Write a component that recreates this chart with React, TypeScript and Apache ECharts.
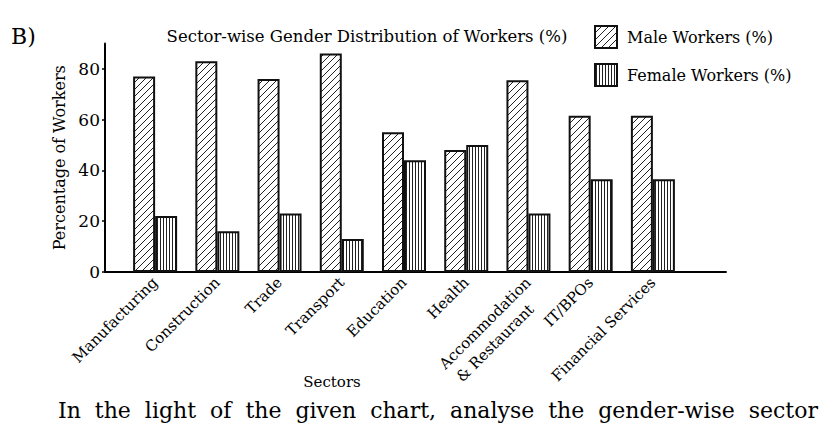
import { useEffect, useRef } from 'react';
import * as echarts from 'echarts';

const sectors = [
  'Manufacturing',
  'Construction',
  'Trade',
  'Transport',
  'Education',
  'Health',
  'Accommodation\n& Restaurant\u00a0\u00a0\u00a0',
  'IT/BPOs',
  'Financial Services',
];
const maleWorkers = [77, 83, 76, 86, 55, 48, 75.5, 61.5, 61.5];
const femaleWorkers = [22, 16, 23, 13, 44, 50, 23, 36.5, 36.5];
const seriesNames = ['Male Workers (%)', 'Female Workers (%)'];
const yMin = 0;
const yMax = 90;
const yTicks = [0, 20, 40, 60, 80];

const FONT = '"DejaVu Serif"';
const NB2 = '\u00a0\u00a0';

// small canvas tiles for the hatching
function hatch(kind: 'diagonal' | 'vertical') {
  const size = kind === 'diagonal' ? 7 : 3;
  const c = document.createElement('canvas');
  c.width = size;
  c.height = size;
  const ctx = c.getContext('2d')!;
  ctx.fillStyle = '#fff';
  ctx.fillRect(0, 0, size, size);
  ctx.strokeStyle = '#222';
  ctx.lineWidth = 1;
  ctx.beginPath();
  if (kind === 'diagonal') {
    ctx.moveTo(-1, size + 1);
    ctx.lineTo(size + 1, -1);
    ctx.moveTo(-1, 1);
    ctx.lineTo(1, -1);
    ctx.moveTo(size - 1, size + 1);
    ctx.lineTo(size + 1, size - 1);
  } else {
    ctx.moveTo(1.5, 0);
    ctx.lineTo(1.5, size);
  }
  ctx.stroke();
  return { image: c.toDataURL(), repeat: 'repeat', imageWidth: size, imageHeight: size } as any;
}

export default function App() {
  const chartRef = useRef<HTMLDivElement>(null);

  useEffect(() => {
    document.body.style.margin = '0';
    if (!chartRef.current) return;
    const chart = echarts.init(chartRef.current, undefined, { renderer: 'svg' });

    // two-line label: rich text so the padding pushes both lines below the anchor
    const categoryData = sectors.map((s) =>
      s.includes('\n')
        ? {
            value: s.split('\n').map((line) => `{c|${line}}`).join('\n'),
            textStyle: { padding: [21, 0, 0, 0] },
          }
        : s
    );

    const barStyle = (kind: 'diagonal' | 'vertical') => ({
      color: hatch(kind),
      borderColor: '#111',
      borderWidth: 2,
    });

    const option: echarts.EChartsOption = {
      animation: false,
      backgroundColor: '#fff',
      title: {
        text: 'Sector-wise Gender Distribution of Workers (%)',
        left: 367,
        top: 28,
        textAlign: 'center',
        padding: 0,
        textStyle: { fontFamily: FONT, fontSize: 16.5, fontWeight: 'normal', color: '#000' },
      },
      legend: {
        data: seriesNames,
        orient: 'vertical',
        left: 594,
        top: 25,
        padding: 0,
        itemWidth: 22,
        itemHeight: 22,
        itemGap: 14,
        icon: 'rect',
        selectedMode: false,
        itemStyle: { borderColor: '#111', borderWidth: 2 },
        textStyle: { fontFamily: FONT, fontSize: 16, color: '#000', padding: [0, 0, 0, 5] },
      },
      grid: [
        { left: 124, right: 148, top: 43.4, bottom: 164 },
        { left: 105, right: 106, top: 43.4, bottom: 164 },
      ],
      xAxis: [
        {
          type: 'category',
          gridIndex: 0,
          data: categoryData as any,
          axisLine: { show: false },
          axisTick: { show: false },
          axisLabel: {
            interval: 0,
            rotate: 45,
            margin: 8,
            fontFamily: FONT,
            fontSize: 15,
            color: '#000',
            rich: {
              c: { align: 'center', fontFamily: FONT, fontSize: 15, lineHeight: 21, color: '#000' },
            },
          },
        },
        {
          type: 'value',
          gridIndex: 1,
          min: 0,
          max: 1,
          axisLine: { show: true, lineStyle: { color: '#000', width: 2 } },
          axisTick: { show: false },
          axisLabel: { show: false },
          splitLine: { show: false },
        },
      ],
      yAxis: [
        { type: 'value', gridIndex: 0, min: yMin, max: yMax, show: false },
        {
          type: 'value',
          gridIndex: 1,
          min: yMin,
          max: yMax,
          name: 'Percentage of Workers',
          nameLocation: 'middle',
          nameGap: 30,
          nameTextStyle: { fontFamily: FONT, fontSize: 16, color: '#000' },
          axisLine: { show: true, lineStyle: { color: '#000', width: 2 } },
          axisTick: { show: true, length: 3, customValues: yTicks, lineStyle: { color: '#000', width: 1.5 } },
          axisLabel: { margin: 5, customValues: yTicks, fontFamily: FONT, fontSize: 17, color: '#000' },
          splitLine: { show: false },
        } as any,
      ],
      graphic: [
        {
          type: 'text',
          x: 11,
          y: 36,
          style: { text: 'B)', font: `22px ${FONT}`, fill: '#000', verticalAlign: 'middle' },
        },
        {
          type: 'text',
          x: 332,
          y: 382,
          style: { text: 'Sectors', font: `15px ${FONT}`, fill: '#000', align: 'center', verticalAlign: 'middle' },
        },
        {
          type: 'text',
          x: 58,
          y: 410,
          style: {
            text: ['In', 'the', 'light', 'of', 'the', 'given', 'chart,', 'analyse', 'the', 'gender-wise', 'sector'].join(NB2),
            font: `22px ${FONT}`,
            fill: '#000',
            verticalAlign: 'middle',
          },
        },
      ],
      series: [
        {
          name: seriesNames[0],
          type: 'bar',
          xAxisIndex: 0,
          yAxisIndex: 0,
          data: maleWorkers,
          barWidth: 22,
          barGap: '0%',
          itemStyle: barStyle('diagonal'),
        },
        {
          name: seriesNames[1],
          type: 'bar',
          xAxisIndex: 0,
          yAxisIndex: 0,
          data: femaleWorkers,
          barWidth: 22,
          barGap: '0%',
          itemStyle: barStyle('vertical'),
        },
      ],
    };

    chart.setOption(option);

    return () => {
      chart.dispose();
    };
  }, []);

  return <div ref={chartRef} style={{ width: '832px', height: '436px' }}></div>;
}
